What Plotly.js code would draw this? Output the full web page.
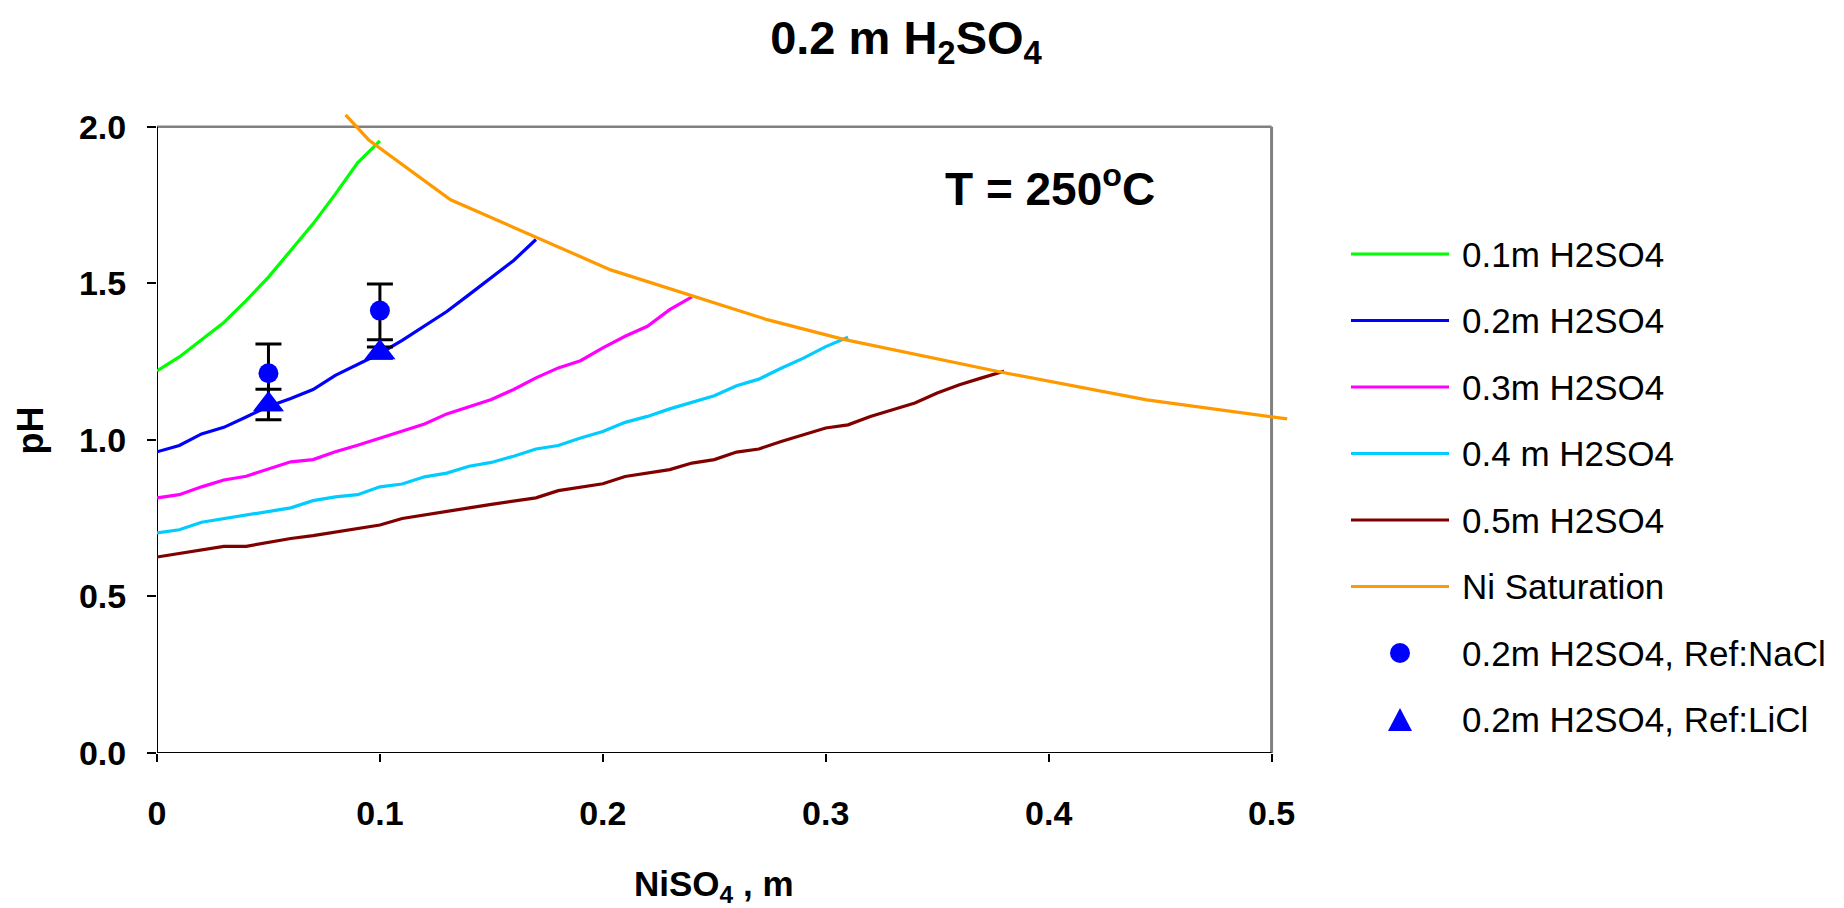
<!DOCTYPE html>
<html>
<head>
<meta charset="utf-8">
<script src="https://cdn.plot.ly/plotly-3.0.1.min.js"></script>
<style>html,body{margin:0;padding:0;background:#fff;}#chart{width:1844px;height:908px;}</style>
</head>
<body>
<div id="chart"></div>
<script>
// ---------------- DATA ----------------
const seriesNames = ["0.1m H2SO4", "0.2m H2SO4", "0.3m H2SO4", "0.4 m H2SO4", "0.5m H2SO4", "Ni Saturation"];
const seriesColors = ["#00FF00", "#0000FF", "#FF00FF", "#00CCFF", "#800000", "#FF9900"];

const x01 = [0, 0.01, 0.02, 0.03, 0.04, 0.05, 0.06, 0.07, 0.08, 0.09, 0.1];
const pH01 = [1.22, 1.265, 1.32, 1.375, 1.445, 1.52, 1.605, 1.69, 1.785, 1.885, 1.955];

const x02 = [0, 0.01, 0.02, 0.03, 0.04, 0.05, 0.06, 0.07, 0.08, 0.09, 0.1, 0.11, 0.12, 0.13, 0.14, 0.15, 0.16, 0.17];
const pH02 = [0.962, 0.982, 1.019, 1.040, 1.073, 1.107, 1.132, 1.161, 1.206, 1.241, 1.276, 1.318, 1.365, 1.410, 1.464, 1.520, 1.573, 1.640];

const x03 = [0, 0.01, 0.02, 0.03, 0.04, 0.05, 0.06, 0.07, 0.08, 0.09, 0.1, 0.11, 0.12, 0.13, 0.14, 0.15, 0.16, 0.17, 0.18, 0.19, 0.2, 0.21, 0.22, 0.23, 0.24];
const pH03 = [0.815, 0.825, 0.850, 0.872, 0.884, 0.907, 0.930, 0.937, 0.962, 0.983, 1.006, 1.027, 1.051, 1.083, 1.105, 1.129, 1.161, 1.198, 1.230, 1.253, 1.294, 1.331, 1.363, 1.416, 1.457];

const x04 = [0, 0.01, 0.02, 0.03, 0.04, 0.05, 0.06, 0.07, 0.08, 0.09, 0.1, 0.11, 0.12, 0.13, 0.14, 0.15, 0.16, 0.17, 0.18, 0.19, 0.2, 0.21, 0.22, 0.23, 0.24, 0.25, 0.26, 0.27, 0.28, 0.29, 0.3, 0.31];
const pH04 = [0.703, 0.713, 0.737, 0.749, 0.759, 0.771, 0.783, 0.806, 0.818, 0.825, 0.850, 0.859, 0.882, 0.894, 0.916, 0.928, 0.948, 0.971, 0.982, 1.006, 1.027, 1.056, 1.075, 1.099, 1.120, 1.141, 1.173, 1.194, 1.229, 1.261, 1.298, 1.328];

const x05 = [0, 0.01, 0.02, 0.03, 0.04, 0.05, 0.06, 0.07, 0.08, 0.09, 0.1, 0.11, 0.12, 0.13, 0.14, 0.15, 0.16, 0.17, 0.18, 0.19, 0.2, 0.21, 0.22, 0.23, 0.24, 0.25, 0.26, 0.27, 0.28, 0.29, 0.3, 0.31, 0.32, 0.33, 0.34, 0.35, 0.36, 0.37, 0.38];
const pH05 = [0.626, 0.637, 0.650, 0.660, 0.660, 0.673, 0.685, 0.694, 0.706, 0.717, 0.728, 0.749, 0.761, 0.772, 0.783, 0.794, 0.804, 0.815, 0.838, 0.850, 0.860, 0.883, 0.894, 0.905, 0.926, 0.937, 0.961, 0.971, 0.995, 1.017, 1.038, 1.048, 1.075, 1.096, 1.118, 1.150, 1.176, 1.198, 1.219];

const xSat = [0.0846, 0.095, 0.1317, 0.2035, 0.2737, 0.308, 0.3784, 0.444, 0.507];
const pHSat = [2.038, 1.958, 1.767, 1.543, 1.384, 1.321, 1.217, 1.128, 1.067];

const markerNames = ["0.2m H2SO4, Ref:NaCl", "0.2m H2SO4, Ref:LiCl"];
const xNaCl = [0.05, 0.1];
const pHNaCl = [1.213, 1.413];
const errNaClPlus = [0.093, 0.085];
const errNaClMinus = [0.117, 0.093];
const xLiCl = [0.05, 0.1];
const pHLiCl = [1.113, 1.279];
const errLiCl = [0.049, 0.018];

const xTicks = [0, 0.1, 0.2, 0.3, 0.4, 0.5];
const xTickText = ["0", "0.1", "0.2", "0.3", "0.4", "0.5"];
const yTicks = [0, 0.5, 1.0, 1.5, 2.0];
const yTickText = ["0.0", "0.5", "1.0", "1.5", "2.0"];

// ---------------- LAYOUT CONSTANTS ----------------
const FONT = "Liberation Sans, Arial, sans-serif";
const W = 1844, H = 908;
const M = {l: 157, r: 539, t: 108, b: 155};
const plotW = W - M.l - M.r, plotH = H - M.t - M.b;
const xRange = [0, 0.515], yRange = [0, 2.06];
function px2x(px) { return (px - M.l) / plotW; }
function py2y(py) { return (H - M.b - py) / plotH; }

const lineXs = [x01, x02, x03, x04, x05, xSat];
const lineYs = [pH01, pH02, pH03, pH04, pH05, pHSat];

const traces = [];
for (let i = 0; i < lineXs.length; i++) {
  traces.push({
    type: "scatter", mode: "lines", name: seriesNames[i],
    x: lineXs[i], y: lineYs[i],
    line: {color: seriesColors[i], width: 3.2},
    cliponaxis: false, hoverinfo: "skip"
  });
}
traces.push({
  type: "scatter", mode: "markers", name: markerNames[0],
  x: xNaCl, y: pHNaCl,
  marker: {symbol: "circle", size: 20, color: "#0000FF"},
  error_y: {type: "data", symmetric: false, array: errNaClPlus, arrayminus: errNaClMinus, color: "#000", thickness: 3, width: 13},
  cliponaxis: false
});
traces.push({
  type: "scatter", mode: "markers", name: markerNames[1],
  x: xLiCl, y: pHLiCl,
  marker: {symbol: "triangle-up", size: 27, color: "#0000FF"},
  error_y: {type: "data", array: errLiCl, color: "#000", thickness: 3, width: 13},
  cliponaxis: false
});

// frame of the plot area
const shapes = [
  {type: "line", xref: "x", yref: "y", x0: 0, x1: 0.5, y0: 2, y1: 2, line: {color: "#808080", width: 2.5}, layer: "below"},
  {type: "line", xref: "x", yref: "y", x0: 0.5, x1: 0.5, y0: 0, y1: 2, line: {color: "#808080", width: 3}, layer: "below"},
  {type: "line", xref: "x", yref: "y", x0: 0, x1: 0, y0: 0, y1: 2, line: {color: "#000", width: 2}, layer: "below"},
  {type: "line", xref: "x", yref: "y", x0: 0, x1: 0.5, y0: 0, y1: 0, line: {color: "#000", width: 2}, layer: "below"}
];

// manual legend (long line samples, as in the original)
const legTop = 254, legStep = 66.5, legLineX0 = 1351, legLineX1 = 1449, legTextX = 1460, legSymX = 1400;
const annotations = [];
const allNames = seriesNames.concat(markerNames);
for (let i = 0; i < allNames.length; i++) {
  const cy = legTop + i * legStep;
  if (i < seriesNames.length) {
    shapes.push({type: "line", xref: "paper", yref: "paper",
      x0: px2x(legLineX0), x1: px2x(legLineX1), y0: py2y(cy), y1: py2y(cy),
      line: {color: seriesColors[i], width: 3.2}});
  } else if (i === seriesNames.length) {
    shapes.push({type: "circle", xref: "paper", yref: "paper",
      x0: px2x(legSymX - 10), x1: px2x(legSymX + 10), y0: py2y(cy + 10), y1: py2y(cy - 10),
      fillcolor: "#0000FF", line: {width: 0}});
  } else {
    const p = "M" + px2x(legSymX - 12) + "," + py2y(cy + 11.5) + " L" + px2x(legSymX + 12) + "," + py2y(cy + 11.5) +
              " L" + px2x(legSymX) + "," + py2y(cy - 11.5) + " Z";
    shapes.push({type: "path", xref: "paper", yref: "paper", path: p, fillcolor: "#0000FF", line: {width: 0}});
  }
  annotations.push({xref: "paper", yref: "paper", x: px2x(legTextX), y: py2y(cy), xanchor: "left", yanchor: "middle",
    text: allNames[i], showarrow: false, font: {family: FONT, size: 35, color: "#000"}});
}
// temperature label
annotations.push({xref: "paper", yref: "paper", x: px2x(943), y: py2y(186), xanchor: "left", yanchor: "middle",
  text: "<b>T = 250<sup>o</sup>C</b>", showarrow: false, font: {family: FONT, size: 46, color: "#000"}});
// x-axis title, centred under the plot frame (0 to 0.5)
annotations.push({xref: "x", yref: "paper", x: 0.25, y: py2y(886), xanchor: "center", yanchor: "middle",
  text: "<b>NiSO<sub>4</sub> , m</b>", showarrow: false, font: {family: FONT, size: 35, color: "#000"}});

const layout = {
  width: W, height: H,
  margin: {l: M.l, r: M.r, t: M.t, b: M.b, pad: 0},
  paper_bgcolor: "#fff", plot_bgcolor: "#fff",
  showlegend: false,
  font: {family: FONT, color: "#000"},
  title: {text: "<b>0.2 m H<sub>2</sub>SO<sub>4</sub></b>", font: {family: FONT, size: 47, color: "#000"},
          x: 906 / W, xanchor: "center", xref: "container", y: 1 - 38 / H, yanchor: "middle", yref: "container"},
  xaxis: {range: xRange, tickvals: xTicks, ticktext: xTickText, showgrid: false, zeroline: false, showline: false,
          ticks: "outside", ticklen: 8, tickwidth: 2, tickcolor: "#000",
          tickfont: {family: FONT, size: 34, color: "#000", weight: "bold"}, ticklabelstandoff: 22},
  yaxis: {range: yRange, tickvals: yTicks, ticktext: yTickText, showgrid: false, zeroline: false, showline: false,
          ticks: "outside", ticklen: 9, tickwidth: 2, tickcolor: "#000",
          tickfont: {family: FONT, size: 34, color: "#000", weight: "bold"}, ticklabelstandoff: 14,
          title: {text: "<b>pH</b>", font: {family: FONT, size: 36, color: "#000"}, standoff: 24}},
  shapes: shapes,
  annotations: annotations
};

Plotly.newPlot("chart", traces, layout, {staticPlot: true, displayModeBar: false});
</script>
</body>
</html>
